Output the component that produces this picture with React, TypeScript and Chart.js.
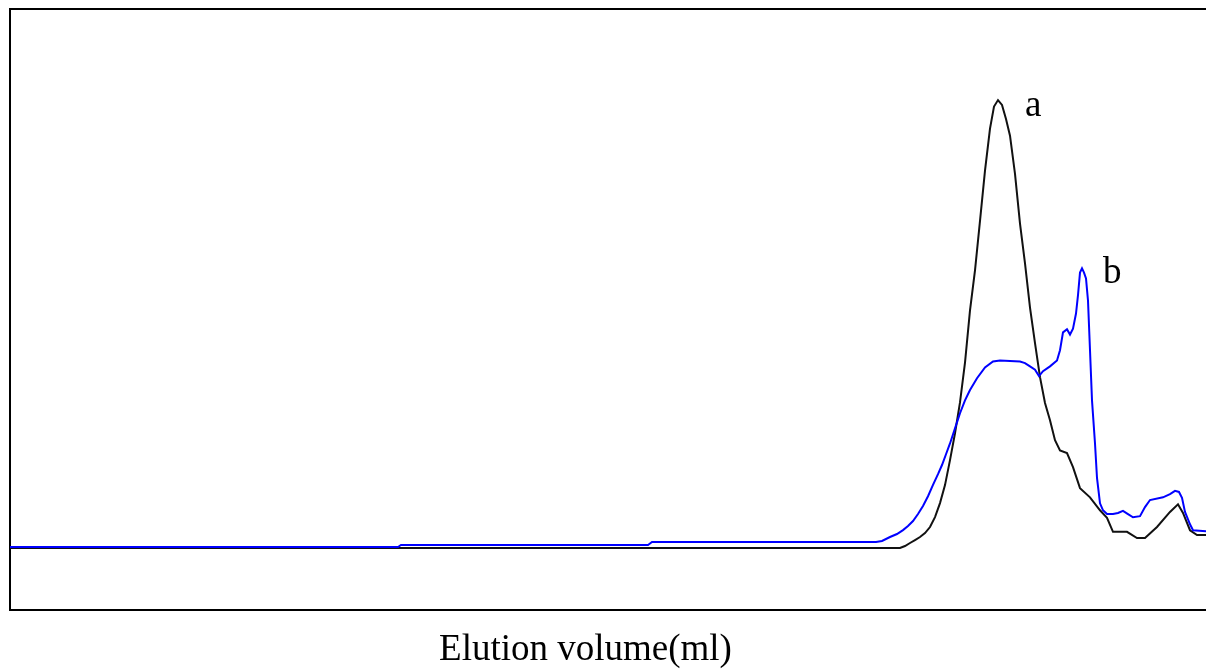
import React, { useEffect, useRef } from "react";
import { Chart, registerables } from "chart.js";

Chart.register(...registerables);

// Curve a (black): elution volume (ml) and absorbance
const aVolume = [
  0, 38.5, 44.5, 44.75, 45.0, 45.25, 45.5, 45.75, 46.0, 46.25, 46.5, 46.75, 47.0, 47.25,
  47.5, 47.75, 48.0, 48.25, 48.5, 48.75, 49.0, 49.2, 49.4, 49.6, 49.8, 50.0, 50.25, 50.5,
  50.75, 51.0, 51.25, 51.5, 51.75, 52.0, 52.25, 52.5, 52.85, 53.15, 53.5, 54.0, 54.5,
  54.85, 55.15, 55.85, 56.35, 56.75, 57.35, 58.0, 58.4, 58.65, 59.0, 59.35, 59.8,
];
const aAbs = [
  0, 0, 0, 0.0037, 0.0093, 0.0148, 0.0204, 0.0278, 0.0389, 0.0574, 0.0833, 0.1167, 0.163,
  0.213, 0.27, 0.344, 0.441, 0.515, 0.607, 0.7, 0.778, 0.819, 0.831, 0.822, 0.796, 0.765,
  0.694, 0.602, 0.528, 0.446, 0.38, 0.317, 0.269, 0.237, 0.2, 0.181, 0.176, 0.15, 0.111,
  0.094, 0.07, 0.056, 0.03, 0.03, 0.0185, 0.0185, 0.039, 0.067, 0.081, 0.065, 0.033, 0.024,
  0.024,
];

// Curve b (blue)
const bVolume = [
  0, 19.4, 19.55, 31.9, 32.1, 43.3, 43.6, 44.0, 44.35, 44.65, 44.9, 45.15, 45.4, 45.65,
  45.9, 46.15, 46.4, 46.6, 46.8, 47.0, 47.25, 47.5, 47.75, 48.0, 48.35, 48.75, 49.15, 49.5,
  50.5, 50.75, 51.0, 51.25, 51.45, 51.65, 52.0, 52.35, 52.5, 52.65, 52.85, 53.0, 53.15,
  53.3, 53.4, 53.5, 53.6, 53.7, 53.8, 53.9, 54.0, 54.1, 54.25, 54.35, 54.5, 54.65, 54.85,
  55.15, 55.4, 55.65, 55.9, 56.15, 56.5, 56.75, 57.0, 57.65, 58.0, 58.25, 58.45, 58.6,
  58.75, 59.0, 59.15, 59.8,
];
const bAbs = [
  0.0019, 0.0019, 0.0056, 0.0056, 0.0111, 0.0111, 0.013, 0.0204, 0.026, 0.0333, 0.0407,
  0.05, 0.063, 0.078, 0.096, 0.117, 0.137, 0.154, 0.174, 0.194, 0.222, 0.25, 0.274, 0.293,
  0.315, 0.335, 0.346, 0.348, 0.346, 0.343, 0.337, 0.331, 0.319, 0.328, 0.337, 0.348,
  0.367, 0.4, 0.406, 0.396, 0.407, 0.435, 0.469, 0.511, 0.519, 0.511, 0.5, 0.459, 0.367,
  0.274, 0.194, 0.13, 0.083, 0.07, 0.063, 0.063, 0.065, 0.069, 0.063, 0.057, 0.059, 0.076,
  0.089, 0.094, 0.1, 0.106, 0.104, 0.093, 0.067, 0.044, 0.033, 0.031,
];

// Curve labels
const curveLabels = ["a", "b"];
const labelVolume = [50.75, 54.65];
const labelAbs = [0.802, 0.491];

const xTitle = "Elution volume(ml)";
const FONT = "'Liberation Serif', 'Times New Roman', serif";

const toPoints = (xs: number[], ys: number[]) => xs.map((x, i) => ({ x, y: ys[i] }));

const labelPlugin = {
  id: "curveLabels",
  afterDatasetsDraw(chart: any) {
    const { ctx, scales, chartArea } = chart;
    const x = scales.x;
    const y = scales.y;
    ctx.save();
    ctx.font = `37px ${FONT}`;
    ctx.fillStyle = "#000";
    ctx.textAlign = "left";
    ctx.textBaseline = "alphabetic";
    curveLabels.forEach((t, i) => {
      ctx.fillText(t, x.getPixelForValue(labelVolume[i]), y.getPixelForValue(labelAbs[i]));
    });
    // axis title (offset left of the plot centre, as in the original figure)
    ctx.textAlign = "center";
    ctx.fillText(xTitle, chartArea.left + 575.5, chartArea.bottom + 49.5);
    ctx.restore();
  },
};

export default function App() {
  const ref = useRef<HTMLCanvasElement | null>(null);

  useEffect(() => {
    if (!ref.current) return;
    const hiddenAxis = {
      grid: { display: false, drawTicks: false },
      ticks: { display: false },
      border: { display: true, color: "#000", width: 2 },
    };
    const chart = new Chart(ref.current, {
      type: "line",
      data: {
        datasets: [
          {
            label: "a",
            data: toPoints(aVolume, aAbs),
            borderColor: "#111111",
            borderWidth: 2,
            pointRadius: 0,
            tension: 0,
            fill: false,
            order: 1,
            xAxisID: "x",
            yAxisID: "y",
          },
          {
            label: "b",
            data: toPoints(bVolume, bAbs),
            borderColor: "#0000ff",
            borderWidth: 2,
            pointRadius: 0,
            tension: 0,
            fill: false,
            order: 0,
            xAxisID: "x",
            yAxisID: "y",
          },
        ],
      },
      options: {
        responsive: false,
        animation: false,
        devicePixelRatio: 1,
        layout: { padding: { left: 10, top: 9, right: 0, bottom: 59 } },
        plugins: { legend: { display: false }, tooltip: { enabled: false } },
        scales: {
          x: {
            type: "linear",
            position: "bottom",
            min: 0,
            max: 59.8,
            ...hiddenAxis,
          },
          y: {
            type: "linear",
            position: "left",
            min: -0.115,
            max: 1.0,
            ...hiddenAxis,
          },
          x2: {
            type: "linear",
            position: "top",
            min: 0,
            max: 59.8,
            ...hiddenAxis,
          },
        },
      },
      plugins: [labelPlugin],
    } as any);
    return () => chart.destroy();
  }, []);

  return (
    <div style={{ position: "fixed", left: 0, top: 0, width: 1206, height: 669, background: "#fff" }}>
      <canvas ref={ref} width={1206} height={669} style={{ display: "block" }} />
    </div>
  );
}
